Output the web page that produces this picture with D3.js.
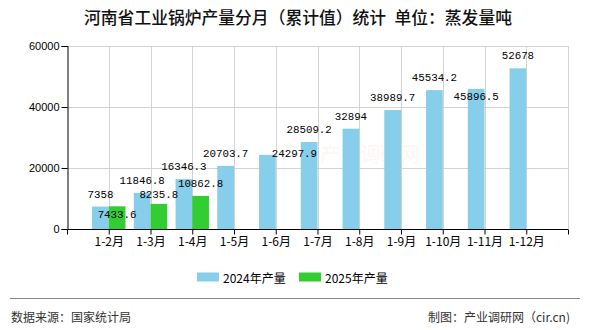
<!DOCTYPE html>
<html>
<head>
<meta charset="utf-8">
<script src="https://cdn.jsdelivr.net/npm/d3@7/dist/d3.min.js"></script>
<style>
  html, body { margin: 0; padding: 0; background: #fff; }
  svg { display: block; }
</style>
</head>
<body>
<svg id="chart" width="590" height="330"></svg>
<script>
// ---- data ----
const categories = ["1-2月", "1-3月", "1-4月", "1-5月", "1-6月", "1-7月", "1-8月", "1-9月", "1-10月", "1-11月", "1-12月"];
const values2024 = [7358, 11846.8, 16346.3, 20703.7, 24297.9, 28509.2, 32894, 38989.7, 45534.2, 45896.5, 52678];
const values2025 = [7433.6, 8235.8, 10862.8];
const seriesNames = ["2024年产量", "2025年产量"];
const yTicks = [0, 20000, 40000, 60000];
const titleText = "河南省工业锅炉产量分月（累计值）统计\u2002单位：蒸发量吨";
const sourceText = "数据来源：国家统计局";
const creditText = "制图：产业调研网（cir.cn)";

// ---- layout ----
const colors = ["#87CEEB", "#32CD32"];
const plotL = 67, plotR = 568, plotT = 46, plotB = 229;
const svg = d3.select("#chart");
const cjk = "'Noto Sans CJK SC', 'Noto Sans', sans-serif";
const mono = "'Liberation Mono', 'DejaVu Sans Mono', monospace";

const x = d3.scalePoint().domain(categories).range([plotL, plotR]).padding(1);
const y = d3.scaleLinear().domain([0, 60000]).range([plotB, plotT]);
const barW = x.step() * 0.4;

// title
svg.append("text").attr("x", 298).attr("y", 24).attr("text-anchor", "middle")
  .attr("font-family", cjk).attr("font-size", 16.8).attr("font-weight", 500).attr("fill", "#111").text(titleText);

// watermark (faint)
svg.append("text").attr("x", 370).attr("y", 162).attr("text-anchor", "middle")
  .attr("font-family", cjk).attr("font-size", 20).attr("fill", "#e85050").attr("opacity", 0.05)
  .text("产业调研网");

// grid
const grid = svg.append("g").attr("stroke", "#d3d3d3").attr("stroke-width", 1);
yTicks.filter(d => d > 0).forEach(t => {
  grid.append("line").attr("x1", plotL).attr("x2", plotR)
    .attr("y1", Math.round(y(t)) + 0.5).attr("y2", Math.round(y(t)) + 0.5);
});
categories.map(c => x(c)).concat([plotR]).forEach(px => {
  grid.append("line").attr("x1", Math.round(px) + 0.5).attr("x2", Math.round(px) + 0.5)
    .attr("y1", plotT).attr("y2", plotB);
});

// bars
const bars = svg.append("g");
values2024.forEach((v, i) => {
  const cx = x(categories[i]);
  bars.append("rect").attr("x", cx - barW).attr("width", barW)
    .attr("y", y(v)).attr("height", plotB - y(v)).attr("fill", colors[0]);
});
values2025.forEach((v, i) => {
  const cx = x(categories[i]);
  bars.append("rect").attr("x", cx).attr("width", barW)
    .attr("y", y(v)).attr("height", plotB - y(v)).attr("fill", colors[1]);
});

// axes
const yAxis = d3.axisLeft(y).tickValues(yTicks).tickSize(6).tickPadding(2).tickFormat(d3.format("d"));
const gy = svg.append("g").attr("transform", `translate(${plotL + 0.5},0)`).call(yAxis);
gy.select(".domain").attr("stroke", "#000");
gy.selectAll(".tick line").attr("stroke", "#000");
gy.selectAll(".tick text").attr("font-family", "'Liberation Sans', Arial, sans-serif")
  .attr("font-size", 11).attr("fill", "#000");

const xAxis = d3.axisBottom(x).tickSize(5).tickSizeOuter(0).tickPadding(3);
const gx = svg.append("g").attr("transform", `translate(0,${plotB + 0.5})`).call(xAxis);
gx.select(".domain").attr("stroke", "#000").attr("d", `M${plotL},0H${plotR}`);
gx.selectAll(".tick line").attr("stroke", "#000");
gx.selectAll(".tick text").attr("font-family", cjk).attr("font-size", 12).attr("fill", "#000");
[plotL, plotR].forEach(px => {
  gx.append("line").attr("x1", px + 0.5).attr("x2", px + 0.5).attr("y1", 0).attr("y2", 5).attr("stroke", "#000");
});

// value labels (with simple overlap nudges like the source)
const nudge = { "1-0": [0, 21], "1-1": [0, 3], "0-4": [27, 11], "0-9": [0, 20] };
const labels = svg.append("g").attr("font-family", mono).attr("font-size", 10.8).attr("fill", "#000")
  .attr("text-anchor", "middle").attr("dominant-baseline", "central");
[values2024, values2025].forEach((vals, s) => {
  vals.forEach((v, i) => {
    const cx = x(categories[i]) + (s === 0 ? -barW / 2 : barW / 2);
    const n = nudge[s + "-" + i] || [0, 0];
    labels.append("text").attr("x", cx + n[0]).attr("y", y(v) - 12 + n[1]).text(String(v));
  });
});

// legend
const legend = svg.append("g");
const legendItems = [{ x: 197, tx: 223 }, { x: 299, tx: 325 }];
seriesNames.forEach((name, i) => {
  legend.append("rect").attr("x", legendItems[i].x).attr("y", 272.5).attr("width", 22).attr("height", 9).attr("fill", colors[i]);
  legend.append("text").attr("x", legendItems[i].tx).attr("y", 277).attr("dominant-baseline", "central")
    .attr("font-family", cjk).attr("font-size", 12).attr("fill", "#000").text(name);
});

// footer
svg.append("line").attr("x1", 10).attr("x2", 580).attr("y1", 298.5).attr("y2", 298.5)
  .attr("stroke", "#888").attr("stroke-width", 1);
svg.append("text").attr("x", 11).attr("y", 316).attr("dominant-baseline", "central")
  .attr("font-family", cjk).attr("font-size", 12).attr("fill", "#333").text(sourceText);
svg.append("text").attr("x", 570).attr("y", 316).attr("dominant-baseline", "central").attr("text-anchor", "end")
  .attr("font-family", cjk).attr("font-size", 12).attr("fill", "#333").text(creditText);
</script>
</body>
</html>
